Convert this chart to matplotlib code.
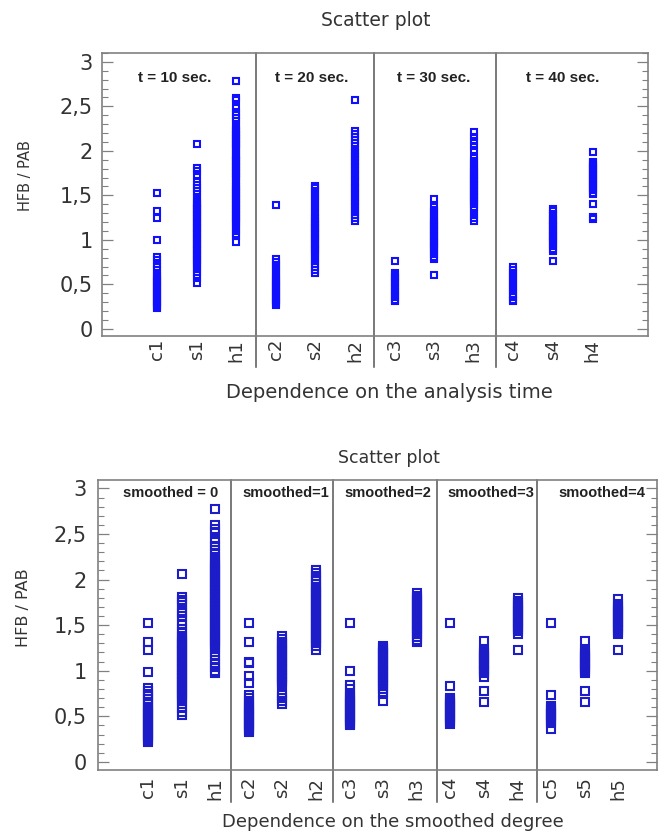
"""Two scatter panels of HFB / PAB per category (analysis time, smoothing degree)."""

import matplotlib
matplotlib.use("Agg")
import matplotlib.pyplot as plt
from matplotlib.ticker import MultipleLocator, FixedLocator
from matplotlib.transforms import blended_transform_factory

# ---------------- top panel: dependence on the analysis time ----------------
time_labels = ["c1", "s1", "h1", "c2", "s2", "h2", "c3", "s3", "h3", "c4", "s4", "h4"]
time_groups = ["t = 10 sec.", "t = 20 sec.", "t = 30 sec.", "t = 40 sec."]

c1_t10 = [1.53, 1.32, 1.25, 1.00, 0.81, 0.77, 0.73, 0.70, 0.66, 0.62, 0.59,
          0.57, 0.55, 0.53, 0.51, 0.49, 0.47, 0.45, 0.43, 0.41, 0.39, 0.37,
          0.35, 0.33, 0.31, 0.29, 0.27, 0.25, 0.24]
s1_t10 = [2.08, 1.81, 1.77, 1.73, 1.65, 1.62, 1.58, 1.55, 1.51, 1.47, 1.43,
          1.41, 1.39, 1.37, 1.35, 1.33, 1.31, 1.29, 1.27, 1.25, 1.23, 1.21,
          1.19, 1.17, 1.15, 1.13, 1.11, 1.09, 1.07, 1.05, 1.03, 1.01, 0.99,
          0.97, 0.95, 0.93, 0.91, 0.89, 0.87, 0.85, 0.83, 0.81, 0.79, 0.77,
          0.75, 0.73, 0.70, 0.67, 0.64, 0.61, 0.57, 0.52]
h1_t10 = [2.79, 2.59, 2.57, 2.48, 2.44, 2.40, 2.37, 2.33, 2.29, 2.25, 2.23,
          2.21, 2.19, 2.17, 2.15, 2.13, 2.11, 2.09, 2.07, 2.05, 2.03, 2.01,
          1.97, 1.95, 1.93, 1.91, 1.89, 1.87, 1.85, 1.83, 1.81, 1.79, 1.77,
          1.75, 1.73, 1.71, 1.69, 1.67, 1.63, 1.61, 1.59, 1.57, 1.55, 1.53,
          1.51, 1.49, 1.47, 1.45, 1.43, 1.41, 1.39, 1.37, 1.35, 1.33, 1.31,
          1.29, 1.27, 1.25, 1.23, 1.21, 1.19, 1.16, 1.13, 1.10, 1.07, 1.04,
          0.98]
c2_t20 = [1.39, 0.78, 0.75, 0.72, 0.69, 0.66, 0.63, 0.60, 0.57, 0.55, 0.53,
          0.51, 0.49, 0.47, 0.45, 0.43, 0.41, 0.39, 0.37, 0.35, 0.33, 0.31,
          0.29, 0.27]
s2_t20 = [1.61, 1.58, 1.55, 1.52, 1.49, 1.46, 1.43, 1.40, 1.37, 1.34, 1.31,
          1.28, 1.25, 1.23, 1.21, 1.19, 1.17, 1.15, 1.13, 1.11, 1.09, 1.07,
          1.05, 1.03, 1.01, 0.99, 0.97, 0.95, 0.93, 0.91, 0.89, 0.87, 0.85,
          0.82, 0.79, 0.76, 0.73, 0.70, 0.66, 0.63]
h2_t20 = [2.57, 2.22, 2.19, 2.16, 2.12, 2.09, 2.06, 2.01, 1.98, 1.96, 1.93,
          1.90, 1.88, 1.85, 1.82, 1.80, 1.77, 1.74, 1.72, 1.69, 1.66, 1.64,
          1.61, 1.58, 1.56, 1.53, 1.50, 1.48, 1.45, 1.42, 1.40, 1.37, 1.34,
          1.31, 1.28, 1.25, 1.21]
c3_t30 = [0.76, 0.63, 0.61, 0.58, 0.56, 0.53, 0.51, 0.48, 0.46, 0.43, 0.41,
          0.38, 0.36, 0.33, 0.31]
s3_t30 = [1.46, 1.37, 1.34, 1.31, 1.28, 1.25, 1.22, 1.20, 1.18, 1.16, 1.14,
          1.12, 1.10, 1.08, 1.06, 1.04, 1.02, 1.00, 0.98, 0.96, 0.94, 0.92,
          0.90, 0.87, 0.84, 0.81, 0.79, 0.60]
h3_t30 = [2.21, 2.16, 2.11, 2.06, 2.01, 1.92, 1.89, 1.86, 1.83, 1.80, 1.78,
          1.76, 1.74, 1.72, 1.70, 1.68, 1.66, 1.64, 1.62, 1.60, 1.58, 1.56,
          1.54, 1.52, 1.50, 1.48, 1.46, 1.44, 1.42, 1.40, 1.37, 1.33, 1.29,
          1.25, 1.21]
c4_t40 = [0.69, 0.66, 0.63, 0.60, 0.57, 0.54, 0.51, 0.48, 0.45, 0.42, 0.39,
          0.36, 0.33, 0.31]
s4_t40 = [1.35, 1.32, 1.29, 1.27, 1.24, 1.22, 1.20, 1.18, 1.16, 1.14, 1.12,
          1.10, 1.08, 1.06, 1.04, 1.02, 1.00, 0.98, 0.96, 0.93, 0.90, 0.88,
          0.76]
h4_t40 = [1.99, 1.88, 1.86, 1.84, 1.82, 1.80, 1.78, 1.76, 1.74, 1.72, 1.70,
          1.68, 1.66, 1.64, 1.62, 1.60, 1.58, 1.56, 1.53, 1.51, 1.40, 1.26,
          1.24]

# ---------------- bottom panel: dependence on the smoothed degree ----------------
smooth_labels = ["c1", "s1", "h1", "c2", "s2", "h2", "c3", "s3", "h3",
                 "c4", "s4", "h4", "c5", "s5", "h5"]
smooth_groups = ["smoothed = 0", "smoothed=1", "smoothed=2", "smoothed=3", "smoothed=4"]

c1_s0 = [1.52, 1.31, 1.23, 0.99, 0.81, 0.78, 0.75, 0.72, 0.69, 0.66, 0.63,
         0.60, 0.58, 0.56, 0.54, 0.52, 0.50, 0.48, 0.46, 0.44, 0.42, 0.40,
         0.38, 0.36, 0.34, 0.32, 0.30, 0.28, 0.26, 0.24, 0.22]
s1_s0 = [2.06, 1.81, 1.78, 1.75, 1.72, 1.66, 1.63, 1.60, 1.55, 1.50, 1.46,
         1.42, 1.38, 1.36, 1.34, 1.32, 1.30, 1.28, 1.26, 1.24, 1.22, 1.20,
         1.18, 1.16, 1.14, 1.12, 1.10, 1.08, 1.06, 1.04, 1.02, 1.00, 0.98,
         0.96, 0.94, 0.92, 0.90, 0.88, 0.86, 0.84, 0.82, 0.80, 0.78, 0.76,
         0.74, 0.72, 0.70, 0.67, 0.63, 0.59, 0.55, 0.51]
h1_s0 = [2.78, 2.60, 2.56, 2.52, 2.45, 2.41, 2.37, 2.33, 2.29, 2.25, 2.21,
         2.19, 2.17, 2.15, 2.13, 2.11, 2.09, 2.07, 2.05, 2.03, 2.01, 1.99,
         1.97, 1.95, 1.93, 1.91, 1.89, 1.87, 1.85, 1.83, 1.81, 1.79, 1.77,
         1.75, 1.73, 1.71, 1.69, 1.67, 1.65, 1.63, 1.61, 1.59, 1.57, 1.55,
         1.53, 1.51, 1.49, 1.47, 1.45, 1.43, 1.41, 1.39, 1.37, 1.35, 1.33,
         1.31, 1.29, 1.27, 1.24, 1.20, 1.16, 1.12, 1.08, 1.04, 1.00, 0.97]
c2_s1 = [1.52, 1.31, 1.10, 1.08, 0.94, 0.87, 0.73, 0.70, 0.67, 0.64, 0.61,
         0.59, 0.57, 0.55, 0.53, 0.51, 0.49, 0.47, 0.45, 0.43, 0.41, 0.39,
         0.37, 0.35, 0.33]
s2_s1 = [1.38, 1.35, 1.32, 1.30, 1.28, 1.26, 1.24, 1.22, 1.20, 1.18, 1.16,
         1.14, 1.12, 1.10, 1.08, 1.06, 1.04, 1.02, 1.00, 0.98, 0.96, 0.94,
         0.92, 0.90, 0.88, 0.86, 0.84, 0.76, 0.73, 0.70, 0.67, 0.64]
h2_s1 = [2.10, 2.07, 2.04, 2.01, 1.98, 1.95, 1.92, 1.90, 1.88, 1.86, 1.84,
         1.82, 1.80, 1.78, 1.76, 1.74, 1.72, 1.70, 1.68, 1.66, 1.64, 1.62,
         1.60, 1.58, 1.56, 1.54, 1.52, 1.50, 1.48, 1.46, 1.44, 1.42, 1.40,
         1.38, 1.36, 1.34, 1.32, 1.30, 1.27, 1.23]
c3_s2 = [1.52, 1.00, 0.84, 0.80, 0.75, 0.72, 0.70, 0.68, 0.66, 0.64, 0.62,
         0.60, 0.58, 0.56, 0.54, 0.52, 0.50, 0.48, 0.46, 0.44, 0.42, 0.40]
s3_s2 = [1.27, 1.25, 1.23, 1.21, 1.19, 1.17, 1.15, 1.13, 1.11, 1.09, 1.07,
         1.05, 1.03, 1.01, 0.99, 0.97, 0.95, 0.93, 0.91, 0.89, 0.87, 0.85,
         0.83, 0.80, 0.77, 0.75, 0.67]
h3_s2 = [1.85, 1.82, 1.80, 1.78, 1.76, 1.74, 1.72, 1.70, 1.68, 1.66, 1.64,
         1.62, 1.60, 1.58, 1.56, 1.54, 1.52, 1.50, 1.48, 1.46, 1.44, 1.42,
         1.40, 1.37, 1.34, 1.31]
c4_s3 = [1.52, 0.83, 0.70, 0.68, 0.66, 0.64, 0.62, 0.60, 0.58, 0.56, 0.54,
         0.52, 0.50, 0.48, 0.46, 0.44, 0.42]
s4_s3 = [1.33, 1.23, 1.21, 1.19, 1.17, 1.15, 1.13, 1.11, 1.09, 1.07, 1.05,
         1.03, 1.01, 0.99, 0.97, 0.93, 0.78, 0.66]
h4_s3 = [1.80, 1.76, 1.74, 1.72, 1.70, 1.68, 1.66, 1.64, 1.62, 1.60, 1.58,
         1.56, 1.54, 1.52, 1.50, 1.48, 1.46, 1.44, 1.40, 1.23]
c5_s4 = [1.52, 0.73, 0.61, 0.59, 0.57, 0.55, 0.53, 0.51, 0.49, 0.47, 0.45,
         0.43, 0.36]
s5_s4 = [1.33, 1.23, 1.20, 1.18, 1.16, 1.14, 1.12, 1.10, 1.08, 1.06, 1.04,
         1.02, 1.00, 0.98, 0.78, 0.66]
h5_s4 = [1.79, 1.73, 1.71, 1.69, 1.67, 1.65, 1.63, 1.61, 1.59, 1.57, 1.55,
         1.53, 1.51, 1.49, 1.47, 1.45, 1.43, 1.40, 1.23]

y_ticks = [0, 0.5, 1, 1.5, 2, 2.5, 3]
y_tick_labels = ["0", "0,5", "1", "1,5", "2", "2,5", "3"]

TEXT = "#333333"
SPINE = "#808080"


def draw_panel(ax, columns, labels, dividers, groups, group_x, group_y, group_size,
               color, msize, xlim, ylim, tick_pad, xlab_pad):
    for i, vals in enumerate(columns):
        ax.plot([i] * len(vals), vals, linestyle="none", marker="s",
                markersize=msize, markerfacecolor="none",
                markeredgecolor=color, markeredgewidth=1.5)
    ax.set_xlim(*xlim)
    ax.set_ylim(*ylim)
    ax.set_xticks(range(len(labels)))
    ax.set_xticklabels(labels, rotation=90, fontsize=13, color=TEXT)
    ax.tick_params(axis="x", length=0, pad=xlab_pad)
    ax.yaxis.set_major_locator(FixedLocator(y_ticks))
    ax.set_yticklabels(y_tick_labels, fontsize=15, color=TEXT)
    ax.yaxis.set_minor_locator(MultipleLocator(0.1))
    ax.tick_params(axis="y", which="major", direction="in", length=8,
                   width=0.9, color=SPINE, right=True, pad=tick_pad)
    ax.tick_params(axis="y", which="minor", direction="in", length=4,
                   width=0.8, color=SPINE, right=True)
    for s in ax.spines.values():
        s.set_color(SPINE)
        s.set_linewidth(1.2)
    trans = blended_transform_factory(ax.transData, ax.transAxes)
    for d in dividers:
        ax.plot([d, d], [-0.11, 1.0], color="#555555", linewidth=1.1,
                transform=trans, clip_on=False)
    for g, gx in zip(groups, group_x):
        ax.text(gx, group_y, g, transform=trans, ha="center", va="center",
                fontsize=group_size, fontweight="bold", family="Liberation Sans",
                color="#222222")


fig = plt.figure(figsize=(6.58, 8.35), dpi=100)

ax1 = fig.add_axes([0.155, 0.5976, 0.830, 0.339])
draw_panel(ax1,
           [c1_t10, s1_t10, h1_t10, c2_t20, s2_t20, h2_t20,
            c3_t30, s3_t30, h3_t30, c4_t40, s4_t40, h4_t40],
           time_labels, [2.5, 5.48, 8.56], time_groups, [0.45, 3.91, 6.99, 10.25],
           0.912, 11, "#1010ff", 5.0, (-1.39, 12.40), (-0.08, 3.1), 6.5, 2)

ax2 = fig.add_axes([0.149, 0.0778, 0.850, 0.347])
draw_panel(ax2,
           [c1_s0, s1_s0, h1_s0, c2_s1, s2_s1, h2_s1, c3_s2, s3_s2, h3_s2,
            c4_s3, s4_s3, h4_s3, c5_s4, s5_s4, h5_s4],
           smooth_labels, [2.47, 5.5, 8.6, 11.58], smooth_groups,
           [0.66, 4.11, 7.15, 10.19, 13.52], 0.955, 10.5,
           "#1c1cc8", 5.8, (-1.49, 15.16), (-0.09, 3.09), 8, 5)

fig.text(0.571, 0.976, "Scatter plot", ha="center", va="center", fontsize=13.5, color=TEXT)
fig.text(0.592, 0.5305, "Dependence on the analysis time", ha="center", va="center",
         fontsize=14, color=TEXT)
fig.text(0.038, 0.790, "HFB / PAB", rotation=90, ha="center", va="center",
         fontsize=10.5, color=TEXT)

fig.text(0.591, 0.451, "Scatter plot", ha="center", va="center", fontsize=12.5, color=TEXT)
fig.text(0.597, 0.016, "Dependence on the smoothed degree", ha="center", va="center",
         fontsize=13, color=TEXT)
fig.text(0.035, 0.272, "HFB / PAB", rotation=90, ha="center", va="center",
         fontsize=11.5, color=TEXT)

fig.savefig("out.png", dpi=100)
